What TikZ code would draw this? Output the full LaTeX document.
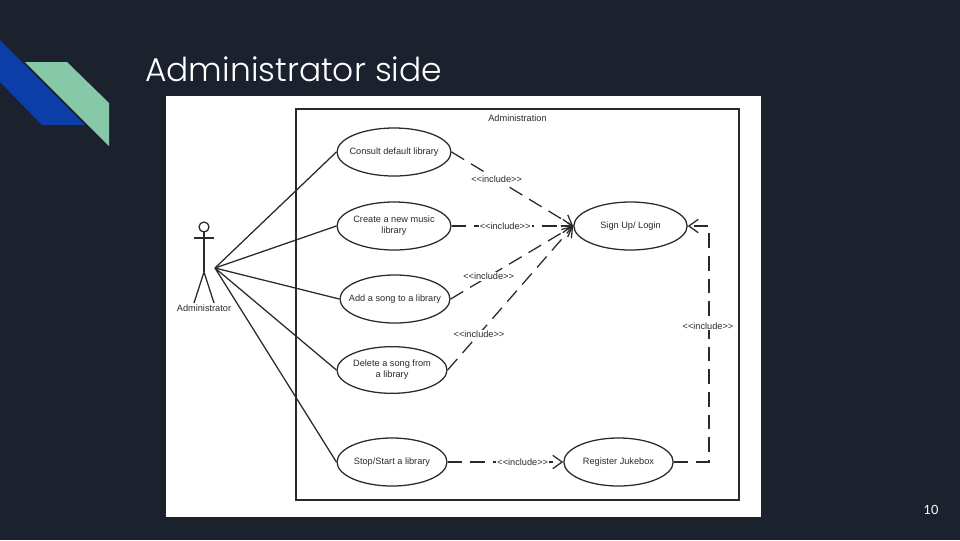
\documentclass[tikz,border=0pt]{standalone}
\usepackage{fontspec}
\setmainfont{Liberation Sans}
\newfontfamily\titlefont[UprightFont={* Light}]{Poppins}
\newfontfamily\numfont{Lato}
\usetikzlibrary{arrows.meta,shapes.geometric}
\definecolor{bgdark}{HTML}{1B212D}
\definecolor{bandblue}{HTML}{0B3EA8}
\definecolor{bandgreen}{HTML}{86C8A7}
\definecolor{inkline}{HTML}{2A2A2A}
\newcommand{\incltext}{<{}<include>{}>}
\tikzset{
  usecase/.style={draw=inkline,ellipse,line width=0.95pt,inner xsep=-30pt,inner ysep=-8pt,align=center,font=\fontsize{6.9}{8.4}\selectfont,text=inkline},
  assoc/.style={draw=inkline,line width=0.95pt},
  incl/.style={draw=inkline,line width=0.95pt,dash pattern=on 11pt off 6pt,-{Straight Barb[length=7pt,width=10pt,line width=0.95pt]}},
  tag/.style={fill=white,inner sep=0.8pt,font=\fontsize{6.9}{8}\selectfont,text=inkline},
  plainlabel/.style={inner sep=0pt,font=\fontsize{6.9}{8}\selectfont,text=inkline}
}
\begin{document}
\begin{tikzpicture}[x=0.75pt,y=-0.75pt]
\useasboundingbox (0,0) rectangle (960,540);
\fill[bgdark] (0,0) rectangle (960,540);
% corner bands
\fill[bandblue] (0,40) -- (85,125) -- (42,125) -- (0,82) -- cycle;
\fill[bandgreen] (25,62) -- (67,62) -- (109,103) -- (109,146) -- cycle;
% title
\node[anchor=base west,inner sep=0pt,text=white,font=\titlefont\fontsize{24.7}{28}\selectfont] (title) at (145,81) {Administrator side};
% sheet and system frame
\fill[white] (166,96) rectangle (761,517);
\draw[inkline,line width=0.9pt] (296,109) rectangle (739,500);
\node[plainlabel] (sys) at (517.5,118) {Administration};
% actor
\draw[assoc] (204,227) circle (5);
\draw[assoc] (204,232) -- (204,272);
\draw[assoc] (194,238) -- (214,238);
\draw[assoc] (194,303) -- (204,272) -- (214,303);
\node[plainlabel] (actor) at (204,308) {Administrator};
\coordinate (hub) at (215,268);
% use cases
\node[usecase,minimum width=85.5pt,minimum height=36pt] (consult) at (394,152) {Consult default library};
\node[usecase,minimum width=85.5pt,minimum height=36pt] (create) at (394,226) {Create a new music\\library};
\node[usecase,minimum width=82.5pt,minimum height=36pt] (add) at (395,299) {Add a song to a library};
\node[usecase,minimum width=82.5pt,minimum height=35pt] (delete) at (392,370) {Delete a song from\\a library};
\node[usecase,minimum width=82.5pt,minimum height=36pt] (stop) at (392,462) {Stop/Start a library};
\node[usecase,minimum width=82pt,minimum height=36pt] (register) at (618.5,462) {Register Jukebox};
\node[usecase,minimum width=85pt,minimum height=36pt] (sign) at (630.5,226) {Sign Up/ Login};
% associations
\draw[assoc] (hub) -- (consult.west);
\draw[assoc] (hub) -- (create.west);
\draw[assoc] (hub) -- (add.west);
\draw[assoc] (hub) -- (delete.west);
\draw[assoc] (hub) -- (stop.west);
% includes
\draw[incl] (consult.east) -- (sign.west) node[tag,pos=0.37] (l1) {\incltext};
\draw[incl] (create.east) -- (sign.west) node[tag,pos=0.44] (l2) {\incltext};
\draw[incl] (add.east) -- (sign.west) node[tag,pos=0.31] (l3) {\incltext};
\draw[incl] (delete.east) -- (sign.west) node[tag,pos=0.25] (l4) {\incltext};
\draw[incl] (stop.east) -- (register.west) node[tag,pos=0.65] (l5) {\incltext};
\coordinate (elbowb) at (709,462);
\coordinate (elbowt) at (709,226);
\draw[incl] (register.east) -- (elbowb) -- (elbowt) -- (sign.east);
\node[tag] (l6) at (708,326) {\incltext};
% page number
\node[inner sep=0pt,text=white,font=\numfont\fontsize{9.5}{11}\selectfont] (page) at (931,510) {10};
\end{tikzpicture}
\end{document}
